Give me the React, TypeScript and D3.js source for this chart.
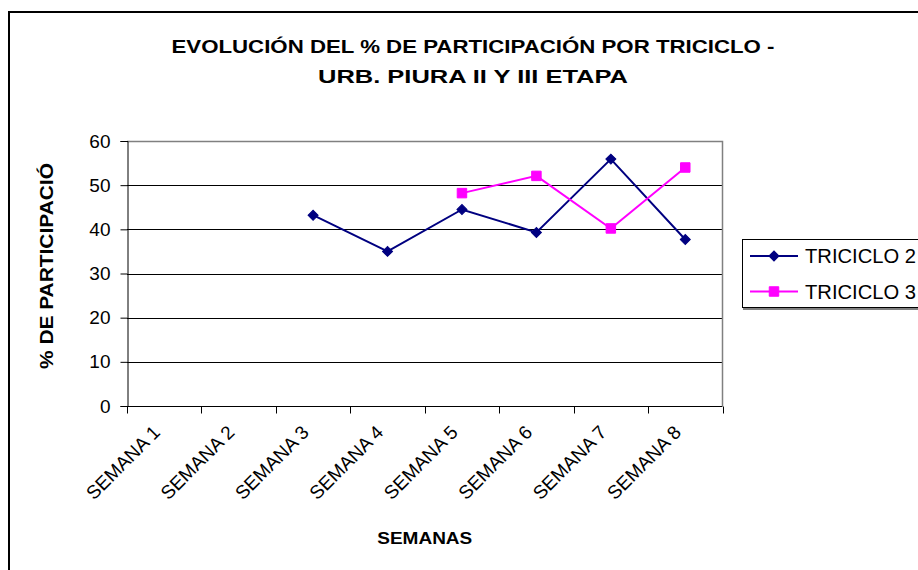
import React, { useEffect, useRef } from "react";
import * as d3 from "d3";

const categories = ["SEMANA 1", "SEMANA 2", "SEMANA 3", "SEMANA 4", "SEMANA 5", "SEMANA 6", "SEMANA 7", "SEMANA 8"];
const triciclo2: (number | null)[] = [null, null, 43.2, 35.0, 44.5, 39.3, 55.9, 37.7];
const triciclo3: (number | null)[] = [null, null, null, null, 48.2, 52.1, 40.2, 54.0];
const yTicks = [0, 10, 20, 30, 40, 50, 60];
const seriesNames = ["TRICICLO 2", "TRICICLO 3"];
const titleLines = ["EVOLUCIÓN DEL % DE PARTICIPACIÓN POR TRICICLO -", "URB. PIURA II Y III ETAPA"];
const yTitle = "% DE PARTICIPACIÓN";
const xTitle = "SEMANAS";

const W = 918;
const H = 570;
const plot = { left: 127, top: 141, right: 722.5, bottom: 406 };
const FONT = "Arial, 'Liberation Sans', Helvetica, sans-serif";

export default function App() {
  const ref = useRef<SVGSVGElement>(null);

  useEffect(() => {
    const svg = d3.select(ref.current);
    svg.selectAll("*").remove();

    svg.append("rect").attr("width", W).attr("height", H).attr("fill", "#fff");
    // outer chart frame
    svg.append("rect")
      .attr("x", 9).attr("y", 12).attr("width", 960).attr("height", 600)
      .attr("fill", "#fff").attr("stroke", "#000").attr("stroke-width", 2);

    const x = d3.scaleBand().domain(categories).range([plot.left, plot.right]);
    const y = d3.scaleLinear().domain([0, 60]).range([plot.bottom, plot.top]);

    // title
    const cx = 473;
    const titleWidths = [603, 310];
    titleLines.forEach((t, i) => {
      svg.append("text")
        .attr("x", cx).attr("y", 53 + i * 30)
        .attr("text-anchor", "middle")
        .attr("font-family", FONT).attr("font-weight", "bold").attr("font-size", 19)
        .attr("textLength", titleWidths[i]).attr("lengthAdjust", "spacingAndGlyphs")
        .text(t);
    });

    // gridlines
    const g = svg.append("g");
    yTicks.filter(v => v > 0 && v < 60).forEach(v => {
      g.append("line")
        .attr("x1", plot.left).attr("x2", plot.right)
        .attr("y1", Math.round(y(v)) + 0.5).attr("y2", Math.round(y(v)) + 0.5)
        .attr("stroke", "#000").attr("stroke-width", 1);
    });
    // plot area border (top/right gray)
    g.append("path")
      .attr("d", `M${plot.left},${Math.round(plot.top) + 0.5}H${plot.right}V${plot.bottom}`)
      .attr("fill", "none").attr("stroke", "#808080").attr("stroke-width", 1.5);

    // y axis
    const yAxis = d3.axisLeft(y).tickValues(yTicks).tickSize(7).tickPadding(10).tickFormat(d3.format("d"));
    const ya = svg.append("g").attr("transform", `translate(${plot.left + 0.5},0)`).call(yAxis);
    ya.select(".domain").attr("stroke", "#000");
    ya.selectAll(".tick line").attr("stroke", "#000");
    ya.selectAll("text").attr("font-family", FONT).attr("font-size", 19).attr("fill", "#000");

    // x axis
    const xa = svg.append("g").attr("transform", `translate(0,${Math.round(plot.bottom) + 0.5})`);
    xa.append("line").attr("x1", plot.left).attr("x2", plot.right).attr("stroke", "#000");
    const bounds = [...categories.map(c => x(c) as number), plot.right];
    bounds.forEach(b => {
      xa.append("line").attr("x1", Math.round(b) + 0.5).attr("x2", Math.round(b) + 0.5)
        .attr("y1", 0).attr("y2", 7).attr("stroke", "#000");
    });
    categories.forEach(c => {
      const px = (x(c) as number) + x.bandwidth() / 2;
      xa.append("text")
        .attr("transform", `translate(${px - 3},${27}) rotate(-45)`)
        .attr("text-anchor", "end")
        .attr("font-family", FONT).attr("font-size", 19)
        .text(c);
    });

    // axis titles
    svg.append("defs").append("clipPath").attr("id", "yclip")
      .append("rect").attr("x", 20).attr("y", 163).attr("width", 60).attr("height", 260);
    svg.append("g").attr("clip-path", "url(#yclip)")
      .append("text")
      .attr("transform", `translate(53,${369}) rotate(-90)`)
      .attr("text-anchor", "start")
      .attr("font-family", FONT).attr("font-weight", "bold").attr("font-size", 19)
      .attr("textLength", 221).attr("lengthAdjust", "spacingAndGlyphs")
      .text(yTitle);
    svg.append("text")
      .attr("x", (plot.left + plot.right) / 2).attr("y", 544)
      .attr("text-anchor", "middle")
      .attr("font-family", FONT).attr("font-weight", "bold").attr("font-size", 17)
      .attr("textLength", 95).attr("lengthAdjust", "spacingAndGlyphs")
      .text(xTitle);

    // series
    const cxOf = (i: number) => (x(categories[i]) as number) + x.bandwidth() / 2;
    const line = d3.line<number | null>()
      .defined(d => d !== null)
      .x((_, i) => cxOf(i))
      .y(d => y(d as number));

    const series = [
      { data: triciclo2, color: "#000080", marker: d3.symbolSquare, size: 50, rot: 45 },
      { data: triciclo3, color: "#FF00FF", marker: d3.symbolSquare, size: 90, rot: 0 },
    ];
    series.forEach(s => {
      svg.append("path").attr("d", line(s.data) as string)
        .attr("fill", "none").attr("stroke", s.color).attr("stroke-width", 2);
    });
    series.forEach(s => {
      s.data.forEach((v, i) => {
        if (v === null) return;
        svg.append("path")
          .attr("d", d3.symbol().type(s.marker).size(s.size)() as string)
          .attr("transform", `translate(${cxOf(i)},${y(v)}) rotate(${s.rot})`)
          .attr("fill", s.color).attr("stroke", s.color).attr("stroke-width", 1);
      });
    });

    // legend
    const lg = svg.append("g");
    lg.append("rect").attr("x", 742.5).attr("y", 239.5).attr("width", 200).attr("height", 68)
      .attr("fill", "#fff").attr("stroke", "#000").attr("stroke-width", 1);
    lg.append("line").attr("x1", 743).attr("x2", 930).attr("y1", 309).attr("y2", 309)
      .attr("stroke", "#808080").attr("stroke-width", 2);
    series.forEach((s, i) => {
      const ly = 256 + i * 35.5;
      lg.append("line").attr("x1", 750).attr("x2", 798).attr("y1", ly).attr("y2", ly)
        .attr("stroke", s.color).attr("stroke-width", 2);
      lg.append("path")
        .attr("d", d3.symbol().type(s.marker).size(s.size)() as string)
        .attr("transform", `translate(774,${ly}) rotate(${s.rot})`)
        .attr("fill", s.color).attr("stroke", s.color);
      lg.append("text").attr("x", 805).attr("y", ly + 7)
        .attr("font-family", FONT).attr("font-size", 20)
        .attr("textLength", 111).attr("lengthAdjust", "spacingAndGlyphs")
        .text(seriesNames[i]);
    });
  }, []);

  return (
    <svg ref={ref} width={W} height={H}
      style={{ position: "absolute", left: 0, top: 0, display: "block" }} />
  );
}
